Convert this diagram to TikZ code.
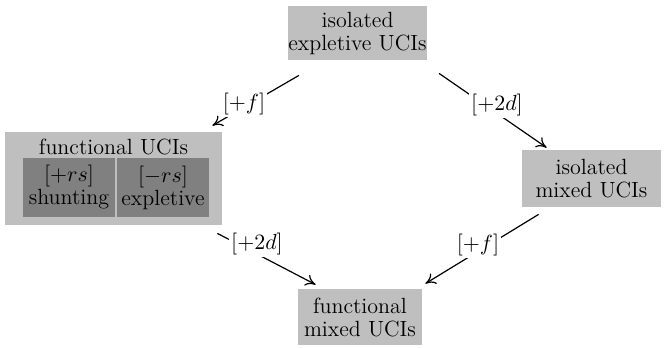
\documentclass[tikz,border=0pt]{standalone}
\usetikzlibrary{calc,arrows.meta}
\begin{document}
\begin{tikzpicture}[x=0.5pt,y=-0.5pt,
  txt/.style={font=\fontsize{11}{11.5}\selectfont},
  box/.style={txt,fill=lightgray,align=center,inner sep=0pt},
  innerbox/.style={txt,fill=gray,align=center,inner sep=0pt,minimum width=46pt,minimum height=29.5pt},
  lab/.style={txt,fill=white,inner sep=1pt},
  conn/.style={line width=0.6pt,-{To[length=5pt,width=6pt]}}]
\useasboundingbox (0,0) rectangle (666,348);
% nodes
\node[box,minimum width=65.5pt,minimum height=27pt] (top) at (357.5,33) {isolated\\expletive UCIs};
\node[box,minimum width=108.5pt,minimum height=46.5pt] (fun) at (113.5,178.5) {};
\node[txt,anchor=base,inner sep=0pt] (funt) at (113.5,155) {functional UCIs};
\node[innerbox] (sh) at (69,187.5) {$[+rs]$\\shunting};
\node[innerbox] (ex) at (163,187.5) {$[-rs]$\\expletive};
\node[box,minimum width=69.5pt,minimum height=28.5pt] (imix) at (591.5,178.5) {isolated\\mixed UCIs};
\node[box,minimum width=62pt,minimum height=28pt] (fmix) at (360,317) {functional\\mixed UCIs};
% connectors
\draw[conn] ($(top.south west)+(11,15)$) -- ($(fun.north east)+(-10,-6)$);
\node[lab] (l1) at (244,104) {$[+f]$};
\draw[conn] ($(top.south east)+(12,13)$) -- ($(imix.north west)+(25,-2)$);
\node[lab] (l2) at (497,105) {$[+2d]$};
\draw[conn] ($(fun.south east)+(-5,8)$) -- ($(fmix.north west)+(18,-4)$);
\node[lab] (l3) at (257,244) {$[+2d]$};
\draw[conn] ($(imix.south west)+(17,7)$) -- ($(fmix.north east)+(3,-5)$);
\node[lab] (l4) at (478,245) {$[+f]$};
\end{tikzpicture}
\end{document}
